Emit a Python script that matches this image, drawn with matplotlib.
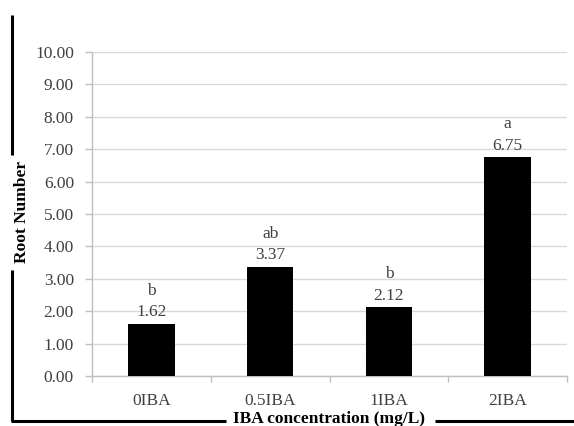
import matplotlib
matplotlib.use("Agg")
import matplotlib.pyplot as plt
from matplotlib.lines import Line2D

# data
categories = ["0IBA", "0.5IBA", "1IBA", "2IBA"]
root_number = [1.62, 3.37, 2.12, 6.75]
letters = ["b", "ab", "b", "a"]
yticks = [0, 1, 2, 3, 4, 5, 6, 7, 8, 9, 10]

plt.rcParams['font.family'] = ['Liberation Serif', 'DejaVu Serif']
txt = '#404040'
fs = 12.5

W, H = 574, 426
fig = plt.figure(figsize=(W / 100, H / 100), dpi=100)
ax = fig.add_axes([92 / W, 50 / H, 475 / W, 324 / H])

x = range(len(categories))
ax.bar(x, root_number, width=0.39, color='black', zorder=3)

for i, v in enumerate(root_number):
    ax.annotate(f"{v:.2f}", (i, v), xytext=(0, 2.5), textcoords='offset points',
                ha='center', va='bottom', fontsize=fs, color=txt)
    ax.annotate(letters[i], (i, v), xytext=(0, 18), textcoords='offset points',
                ha='center', va='bottom', fontsize=fs, color=txt)

ax.set_xlim(-0.5, 3.5)
ax.set_ylim(0, 10)
ax.set_yticks(yticks)
ax.set_yticklabels([f"{t:.2f}" for t in yticks], fontsize=fs, color=txt)
ax.set_xticks(list(x))
ax.set_xticklabels(categories, fontsize=fs, color=txt)
ax.set_xticks([-0.5, 0.5, 1.5, 2.5, 3.5], minor=True)
ax.tick_params(axis='x', which='major', length=0, pad=12)
ax.tick_params(axis='x', which='minor', length=4, color='#bfbfbf', width=1)
ax.tick_params(axis='y', length=5, color='#bfbfbf', width=1, pad=8)
ax.yaxis.grid(True, color='#d9d9d9', linewidth=1, zorder=0)

for s in ['top', 'right']:
    ax.spines[s].set_visible(False)
for s in ['left', 'bottom']:
    ax.spines[s].set_color('#bfbfbf')
    ax.spines[s].set_linewidth(1)

# axis titles with the heavy bracket lines around them
fig.text(22 / W, 1 - 212 / H, "Root Number", rotation=90, ha='center', va='center',
         fontsize=fs, fontweight='bold', color='black')
fig.text(329 / W, 1 - 419 / H, "IBA concentration (mg/L)", ha='center', va='center',
         fontsize=fs, fontweight='bold', color='black')

def seg(x0, y0, x1, y1):
    fig.add_artist(Line2D([x0 / W, x1 / W], [1 - y0 / H, 1 - y1 / H],
                          transform=fig.transFigure, color='black', linewidth=2.2,
                          solid_capstyle='butt'))

seg(12, 15, 12, 155)
seg(12, 270, 12, 421)
seg(11, 421, 226, 421)
seg(435, 421, 574, 421)

fig.savefig("out.png", dpi=100, facecolor='white')
